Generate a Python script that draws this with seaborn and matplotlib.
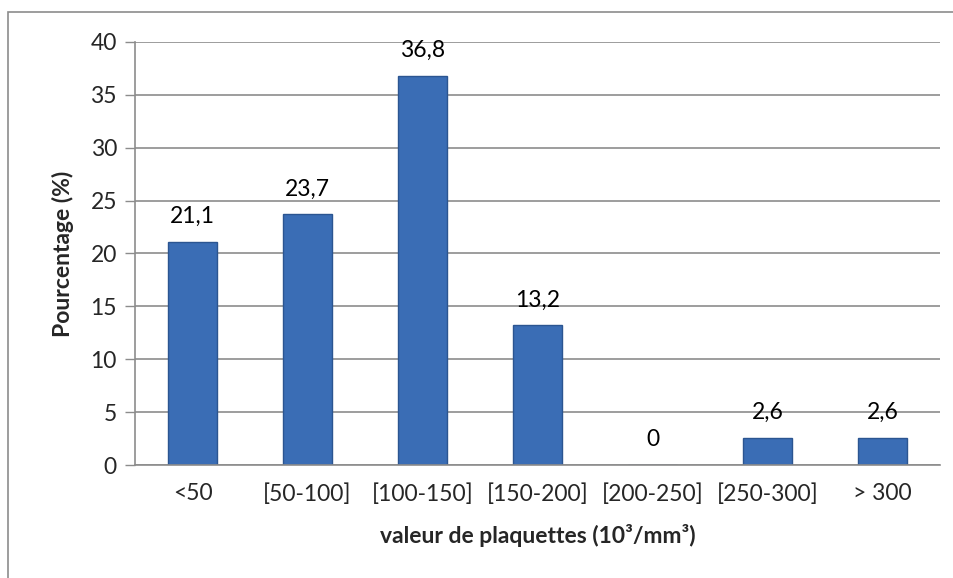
import matplotlib
matplotlib.use("Agg")
import matplotlib.pyplot as plt
import seaborn as sns
import pandas as pd
from matplotlib.patches import Rectangle

categories = ["<50", "[50-100]", "[100-150]", "[150-200]", "[200-250]", "[250-300]", "> 300"]
values = [21.1, 23.7, 36.8, 13.2, 0, 2.6, 2.6]
labels = ["21,1", "23,7", "36,8", "13,2", "0", "2,6", "2,6"]
yticks = [0, 5, 10, 15, 20, 25, 30, 35, 40]

sns.set_theme(style="white")
plt.rcParams['font.family'] = ['Lato', 'DejaVu Sans']

df = pd.DataFrame({"cat": categories, "val": values})

fig = plt.figure(figsize=(9.54, 5.78), dpi=100)
ax = fig.add_axes([135/954, 1-465/578, (940-135)/954, (465-42)/578])

sns.barplot(data=df, x="cat", y="val", ax=ax, color="#3A6DB5", width=0.43,
            edgecolor="#2B5591", linewidth=1.0, saturation=1)

FS = 16.5
ax.set_ylim(0, 40)
ax.set_xlim(-0.5, len(categories) - 0.5)
ax.set_yticks(yticks)
ax.set_yticklabels([str(t) for t in yticks], fontsize=FS)
ax.set_xticks(range(len(categories)))
ax.set_xticklabels(categories, fontsize=FS)
ax.set_xticks([i - 0.5 for i in range(len(categories) + 1)], minor=True)
ax.tick_params(axis="x", which="major", length=0, pad=13)
ax.tick_params(axis="x", which="minor", length=6, width=1, color="#8c8c8c", direction="out")
ax.tick_params(axis="y", length=7, width=1, color="#8c8c8c", direction="out", pad=6, left=True)

ax.yaxis.grid(True, color="#8c8c8c", linewidth=1.2)
ax.set_axisbelow(True)
for s in ["top", "right"]:
    ax.spines[s].set_visible(False)
for s in ["left", "bottom"]:
    ax.spines[s].set_color("#8c8c8c")
    ax.spines[s].set_linewidth(1.2)

for i, (v, lab) in enumerate(zip(values, labels)):
    ax.text(i, v + 1.4, lab, ha="center", va="bottom", fontsize=FS, color="black")

ax.set_ylabel("Pourcentage (%)", fontsize=FS, fontweight="bold", labelpad=12)
ax.set_xlabel("valeur de plaquettes (10³/mm³)", fontsize=FS, fontweight="bold", labelpad=14)

fig.patches.append(Rectangle((8.5/954, -0.1), 1.2, 1 - 12/578 + 0.1,
                             transform=fig.transFigure, fill=False,
                             edgecolor="#8c8c8c", linewidth=1.2))

fig.savefig("out.png", dpi=100)
